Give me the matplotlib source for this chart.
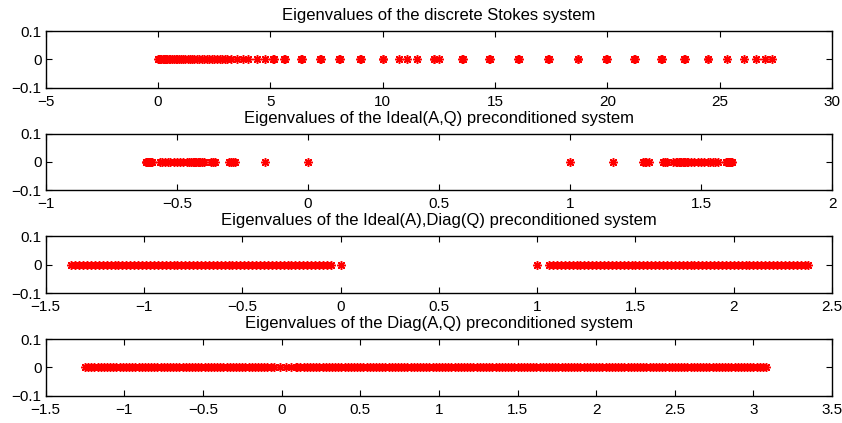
import numpy as np
import matplotlib
matplotlib.use('Agg')
from matplotlib import pyplot as plt

plt.rcParams['font.family'] = ['Liberation Sans', 'DejaVu Sans']
plt.rcParams['font.size'] = 11

titles = [
    'Eigenvalues of the discrete Stokes system',
    'Eigenvalues of the Ideal(A,Q) preconditioned system',
    'Eigenvalues of the Ideal(A),Diag(Q) preconditioned system',
    'Eigenvalues of the Diag(A,Q) preconditioned system',
]

stokes_eigs = [
    0.00, 0.05, 0.10, 0.15, 0.20, 0.25, 0.30, 0.36, 0.42, 0.48, 0.55, 0.62,
    0.70, 0.78, 0.86, 0.95, 1.04, 1.13, 1.22, 1.32, 1.42, 1.52, 1.62, 1.72,
    1.83, 1.94, 2.05, 2.16, 2.27, 2.38, 2.50, 2.62, 2.74, 2.86, 2.97, 3.05,
    3.25, 3.53, 3.80, 4.02, 4.39, 4.76, 5.13, 5.15, 5.61, 5.66, 6.35, 6.40,
    7.21, 7.25, 8.07, 8.11, 8.99, 9.03, 9.99, 10.02, 10.74, 11.07, 11.52,
    12.26, 12.30, 12.52, 13.52, 13.56, 14.75, 14.79, 16.04, 16.08, 17.35,
    17.39, 18.67, 18.71, 19.95, 19.99, 21.19, 21.23, 22.38, 22.42, 23.43,
    23.47, 24.46, 24.50, 25.32, 26.06, 26.61, 27.03, 27.32,
]

ideal_aq_eigs = [
    -0.618, -0.616, -0.614, -0.612, -0.610, -0.608, -0.606, -0.603, -0.600,
    -0.596, -0.565, -0.555, -0.545, -0.535, -0.525, -0.512, -0.500, -0.488,
    -0.475, -0.462, -0.452, -0.445, -0.440, -0.435, -0.430, -0.425, -0.420,
    -0.415, -0.410, -0.403, -0.395, -0.370, -0.363, -0.356, -0.300, -0.292,
    -0.285, -0.278, -0.165, 0.0,
    1.0, 1.165, 1.278, 1.285, 1.292, 1.300, 1.356, 1.363, 1.370, 1.395,
    1.403, 1.410, 1.415, 1.420, 1.425, 1.430, 1.435, 1.440, 1.445, 1.452,
    1.462, 1.475, 1.488, 1.500, 1.512, 1.525, 1.535, 1.545, 1.555, 1.565,
    1.596, 1.600, 1.603, 1.606, 1.608, 1.610, 1.612, 1.614, 1.616, 1.618,
]

ideal_a_diag_q_eigs = [
    -1.37, -1.35, -1.33, -1.31, -1.29, -1.27, -1.25, -1.23, -1.21, -1.19,
    -1.17, -1.15, -1.13, -1.11, -1.09, -1.07, -1.05, -1.03, -1.01, -0.99,
    -0.97, -0.95, -0.93, -0.91, -0.89, -0.87, -0.85, -0.83, -0.81, -0.79,
    -0.77, -0.75, -0.73, -0.71, -0.69, -0.67, -0.65, -0.63, -0.61, -0.59,
    -0.57, -0.55, -0.53, -0.51, -0.49, -0.47, -0.45, -0.43, -0.41, -0.39,
    -0.37, -0.35, -0.33, -0.31, -0.29, -0.27, -0.25, -0.23, -0.21, -0.19,
    -0.17, -0.15, -0.13, -0.11, -0.09, -0.07, -0.05, 0.00,
    1.00,
    1.06, 1.08, 1.10, 1.12, 1.14, 1.16, 1.18, 1.20, 1.22, 1.24,
    1.26, 1.28, 1.30, 1.32, 1.34, 1.36, 1.38, 1.40, 1.42, 1.44,
    1.46, 1.48, 1.50, 1.52, 1.54, 1.56, 1.58, 1.60, 1.62, 1.64,
    1.66, 1.68, 1.70, 1.72, 1.74, 1.76, 1.78, 1.80, 1.82, 1.84,
    1.86, 1.88, 1.90, 1.92, 1.94, 1.96, 1.98, 2.00, 2.02, 2.04,
    2.06, 2.08, 2.10, 2.12, 2.14, 2.16, 2.18, 2.20, 2.22, 2.24,
    2.26, 2.28, 2.30, 2.32, 2.34, 2.36, 2.38,
]

diag_aq_eigs = [
    -1.25, -1.23, -1.21, -1.19, -1.17, -1.15, -1.13, -1.11, -1.09, -1.07,
    -1.05, -1.03, -1.01, -0.99, -0.97, -0.95, -0.93, -0.91, -0.89, -0.87,
    -0.85, -0.83, -0.81, -0.79, -0.77, -0.75, -0.73, -0.71, -0.69, -0.67,
    -0.65, -0.63, -0.61, -0.59, -0.57, -0.55, -0.53, -0.51, -0.49, -0.47,
    -0.45, -0.43, -0.41, -0.39, -0.37, -0.35, -0.33, -0.31, -0.29, -0.27,
    -0.25, -0.23, -0.21, -0.19, -0.17, -0.15, -0.13, -0.11, -0.09, -0.07,
    -0.05, -0.01, 0.03, 0.06, 0.09,
    0.10, 0.12, 0.14, 0.16, 0.18, 0.20, 0.22, 0.24, 0.26, 0.28,
    0.30, 0.32, 0.34, 0.36, 0.38, 0.40, 0.42, 0.44, 0.46, 0.48,
    0.50, 0.52, 0.54, 0.56, 0.58, 0.60, 0.62, 0.64, 0.66, 0.68,
    0.70, 0.72, 0.74, 0.76, 0.78, 0.80, 0.82, 0.84, 0.86, 0.88,
    0.90, 0.92, 0.94, 0.96, 0.98, 1.00, 1.02, 1.04, 1.06, 1.08,
    1.10, 1.12, 1.14, 1.16, 1.18, 1.20, 1.22, 1.24, 1.26, 1.28,
    1.30, 1.32, 1.34, 1.36, 1.38, 1.40, 1.42, 1.44, 1.46, 1.48,
    1.50, 1.52, 1.54, 1.56, 1.58, 1.60, 1.62, 1.64, 1.66, 1.68,
    1.70, 1.72, 1.74, 1.76, 1.78, 1.80, 1.82, 1.84, 1.86, 1.88,
    1.90, 1.92, 1.94, 1.96, 1.98, 2.00, 2.02, 2.04, 2.06, 2.08,
    2.10, 2.12, 2.14, 2.16, 2.18, 2.20, 2.22, 2.24, 2.26, 2.28,
    2.30, 2.32, 2.34, 2.36, 2.38, 2.40, 2.42, 2.44, 2.46, 2.48,
    2.50, 2.52, 2.54, 2.56, 2.58, 2.60, 2.62, 2.64, 2.66, 2.68,
    2.70, 2.72, 2.74, 2.76, 2.78, 2.80, 2.82, 2.84, 2.86, 2.88,
    2.90, 2.92, 2.94, 2.96, 2.98, 3.00, 3.02, 3.04, 3.06, 3.08,
]

all_eigs = [stokes_eigs, ideal_aq_eigs, ideal_a_diag_q_eigs, diag_aq_eigs]
x_limits = [(-5, 30), (-1, 2), (-1.5, 2.5), (-1.5, 3.5)]
x_steps = [5, 0.5, 0.5, 0.5]

fig = plt.figure(figsize=(8.42, 4.23), dpi=100)
bottoms = [0.7927, 0.5501, 0.3073, 0.0645]

for i in range(4):
    ax = fig.add_axes([0.0543, bottoms[i], 0.9339, 0.1340])
    eigs = np.array(all_eigs[i])
    ax.plot(eigs, np.zeros_like(eigs), linestyle='none', marker=(8, 2, 0),
            markersize=6.2, markeredgewidth=1.1, color='red')
    lo, hi = x_limits[i]
    ticks = np.arange(lo, hi + x_steps[i] / 2, x_steps[i])
    ax.set_xlim(lo, hi)
    ax.set_ylim(-0.1, 0.1)
    ax.set_xticks(ticks)
    ax.set_xticklabels([('%g' % t).replace('-', '\u2212') for t in ticks])
    ax.set_yticks([-0.1, 0, 0.1])
    ax.set_yticklabels(['\u22120.1', '0', '0.1'])
    ax.tick_params(direction='in', top=True, right=True, length=4, width=0.8,
                   labelsize=11)
    ax.tick_params(axis='x', pad=5)
    ax.tick_params(axis='y', pad=3)
    for s in ax.spines.values():
        s.set_linewidth(1.0)
    ax.set_title(titles[i], fontsize=12, pad=8)

plt.savefig('out.png', dpi=100)
